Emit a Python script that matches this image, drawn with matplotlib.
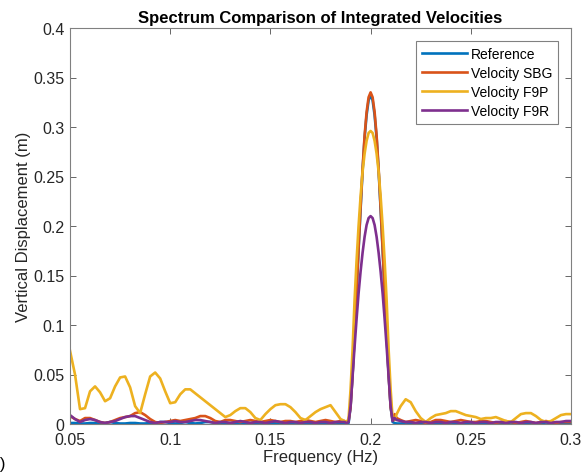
import numpy as np
import matplotlib
matplotlib.use("Agg")
import matplotlib.pyplot as plt

plt.rcParams['font.family'] = ['Liberation Sans', 'DejaVu Sans']

# Frequência (Hz): grade grossa fora do pico, fina em volta de 0.2 Hz
freq_a = [0.0500, 0.0525, 0.0550, 0.0575, 0.0600, 0.0625, 0.0650, 0.0675, 0.0700, 0.0725,
          0.0750, 0.0775, 0.0800, 0.0825, 0.0850, 0.0875, 0.0900, 0.0925, 0.0950, 0.0975,
          0.1000, 0.1025, 0.1050, 0.1075, 0.1100, 0.1125, 0.1150, 0.1175, 0.1200, 0.1225,
          0.1250, 0.1275, 0.1300, 0.1325, 0.1350, 0.1375, 0.1400, 0.1425, 0.1450, 0.1475,
          0.1500, 0.1525, 0.1550, 0.1575, 0.1600, 0.1625, 0.1650, 0.1675, 0.1700, 0.1725,
          0.1750, 0.1775, 0.1800, 0.1825, 0.1850]
freq_b = [0.187, 0.188, 0.189, 0.190, 0.191, 0.192, 0.193, 0.194, 0.195, 0.196,
          0.197, 0.198, 0.199, 0.200, 0.201, 0.202, 0.203, 0.204, 0.205, 0.206,
          0.207, 0.208, 0.209, 0.210, 0.211, 0.212, 0.213]
freq_c = [0.2150, 0.2175, 0.2200, 0.2225, 0.2250, 0.2275, 0.2300, 0.2325, 0.2350, 0.2375,
          0.2400, 0.2425, 0.2450, 0.2475, 0.2500, 0.2525, 0.2550, 0.2575, 0.2600, 0.2625,
          0.2650, 0.2675, 0.2700, 0.2725, 0.2750, 0.2775, 0.2800, 0.2825, 0.2850, 0.2875,
          0.2900, 0.2925, 0.2950, 0.2975, 0.3000]

# Reference
ref_a = [0.001, 0.001, 0.0005, 0.0005, 0.001, 0.001, 0.0005, 0.001, 0.002, 0.001,
         0.0005, 0.0005, 0.001, 0.001, 0.0005, 0.0005, 0.001, 0.001, 0.002, 0.002,
         0.001, 0.0005, 0.001, 0.002, 0.001, 0.0005, 0.001, 0.002, 0.002, 0.001,
         0.0005, 0.0005, 0.001, 0.001, 0.0005, 0.0005, 0.001, 0.001, 0.0005, 0.0005,
         0.001, 0.001, 0.0005, 0.0005, 0.001, 0.001, 0.0005, 0.0005, 0.001, 0.001,
         0.0005, 0.0005, 0.001, 0.001, 0.0005]
ref_b = [0.001, 0.0005, 0.001, 0.017, 0.050, 0.089, 0.133, 0.176, 0.217, 0.256,
         0.289, 0.312, 0.327, 0.332, 0.327, 0.312, 0.289, 0.256, 0.217, 0.176,
         0.133, 0.089, 0.050, 0.017, 0.002, 0.001, 0.0005]
ref_c = [0.0005, 0.001, 0.001, 0.0005, 0.0005, 0.001, 0.001, 0.0005, 0.0005, 0.001,
         0.001, 0.0005, 0.0005, 0.001, 0.001, 0.0005, 0.0005, 0.001, 0.001, 0.0005,
         0.0005, 0.001, 0.001, 0.0005, 0.0005, 0.001, 0.001, 0.0005, 0.0005, 0.001,
         0.001, 0.0005, 0.0005, 0.001, 0.001]

# Velocity SBG
sbg_a = [0.008, 0.005, 0.003, 0.006, 0.006, 0.004, 0.002, 0.001, 0.002, 0.004,
         0.006, 0.007, 0.008, 0.011, 0.012, 0.009, 0.005, 0.002, 0.001, 0.002,
         0.003, 0.004, 0.003, 0.004, 0.005, 0.006, 0.008, 0.008, 0.006, 0.003,
         0.002, 0.004, 0.004, 0.003, 0.002, 0.003, 0.004, 0.003, 0.002, 0.003,
         0.004, 0.003, 0.002, 0.003, 0.003, 0.002, 0.003, 0.004, 0.003, 0.002,
         0.003, 0.004, 0.003, 0.002, 0.003]
sbg_b = [0.003, 0.002, 0.003, 0.017, 0.050, 0.090, 0.134, 0.178, 0.219, 0.258,
         0.291, 0.315, 0.330, 0.335, 0.330, 0.315, 0.291, 0.258, 0.219, 0.178,
         0.134, 0.090, 0.050, 0.017, 0.004, 0.010, 0.006]
sbg_c = [0.004, 0.002, 0.003, 0.004, 0.003, 0.001, 0.002, 0.004, 0.004, 0.003,
         0.002, 0.003, 0.004, 0.003, 0.002, 0.002, 0.003, 0.003, 0.002, 0.001,
         0.002, 0.003, 0.002, 0.001, 0.002, 0.003, 0.002, 0.001, 0.002, 0.003,
         0.002, 0.001, 0.002, 0.002, 0.002]

# Velocity F9P
f9p_a = [0.074, 0.050, 0.015, 0.016, 0.033, 0.038, 0.032, 0.023, 0.026, 0.038,
         0.047, 0.048, 0.037, 0.018, 0.011, 0.030, 0.048, 0.052, 0.046, 0.033,
         0.021, 0.022, 0.030, 0.035, 0.035, 0.031, 0.027, 0.023, 0.019, 0.015,
         0.011, 0.007, 0.009, 0.013, 0.016, 0.016, 0.012, 0.006, 0.004, 0.010,
         0.015, 0.019, 0.020, 0.020, 0.017, 0.012, 0.006, 0.004, 0.008, 0.012,
         0.015, 0.017, 0.019, 0.012, 0.005]
f9p_b = [0.003, 0.002, 0.005, 0.035, 0.075, 0.125, 0.165, 0.200, 0.230, 0.255,
         0.273, 0.286, 0.294, 0.296, 0.294, 0.286, 0.273, 0.255, 0.230, 0.200,
         0.165, 0.125, 0.075, 0.035, 0.005, 0.004, 0.010]
f9p_c = [0.018, 0.025, 0.022, 0.013, 0.006, 0.002, 0.006, 0.009, 0.010, 0.011,
         0.013, 0.013, 0.011, 0.009, 0.008, 0.007, 0.005, 0.006, 0.006, 0.007,
         0.005, 0.003, 0.002, 0.006, 0.010, 0.011, 0.011, 0.008, 0.004, 0.002,
         0.003, 0.006, 0.009, 0.010, 0.010]

# Velocity F9R
f9r_a = [0.009, 0.005, 0.002, 0.004, 0.005, 0.004, 0.002, 0.001, 0.002, 0.003,
         0.005, 0.007, 0.008, 0.008, 0.006, 0.004, 0.002, 0.001, 0.002, 0.002,
         0.002, 0.003, 0.002, 0.002, 0.003, 0.004, 0.004, 0.003, 0.002, 0.001,
         0.002, 0.002, 0.001, 0.002, 0.003, 0.002, 0.001, 0.002, 0.002, 0.001,
         0.002, 0.003, 0.002, 0.001, 0.002, 0.002, 0.001, 0.002, 0.002, 0.001,
         0.002, 0.002, 0.001, 0.002, 0.002]
f9r_b = [0.002, 0.001, 0.002, 0.018, 0.048, 0.078, 0.106, 0.132, 0.154, 0.173,
         0.189, 0.201, 0.208, 0.210, 0.208, 0.201, 0.189, 0.173, 0.154, 0.132,
         0.106, 0.078, 0.048, 0.018, 0.003, 0.006, 0.004]
f9r_c = [0.003, 0.002, 0.002, 0.001, 0.002, 0.002, 0.001, 0.002, 0.002, 0.001,
         0.002, 0.002, 0.001, 0.002, 0.002, 0.001, 0.002, 0.002, 0.001, 0.002,
         0.002, 0.001, 0.002, 0.002, 0.001, 0.002, 0.002, 0.001, 0.002, 0.002,
         0.001, 0.002, 0.002, 0.003, 0.003]

series_names = ['Reference', 'Velocity SBG', 'Velocity F9P', 'Velocity F9R']
series_colors = ['#0072BD', '#D95319', '#EDB120', '#7E2F8E']

xticks = [0.05, 0.1, 0.15, 0.2, 0.25, 0.3]
xtick_labels = ['0.05', '0.1', '0.15', '0.2', '0.25', '0.3']
yticks = [0, 0.05, 0.1, 0.15, 0.2, 0.25, 0.3, 0.35, 0.4]
ytick_labels = ['0', '0.05', '0.1', '0.15', '0.2', '0.25', '0.3', '0.35', '0.4']

freq = freq_a + freq_b + freq_c
series = [ref_a + ref_b + ref_c,
          sbg_a + sbg_b + sbg_c,
          f9p_a + f9p_b + f9p_c,
          f9r_a + f9r_b + f9r_c]

fig = plt.figure(figsize=(5.82, 4.77), dpi=100)
ax = fig.add_axes([70 / 582, 1 - 425 / 477, 501 / 582, 396 / 477])

for valores, nome, cor in zip(series, series_names, series_colors):
    ax.plot(freq, valores, color=cor, linewidth=1.9, label=nome)

ax.set_xlim(0.05, 0.3)
ax.set_ylim(0, 0.4)
ax.set_xticks(xticks)
ax.set_xticklabels(xtick_labels)
ax.set_yticks(yticks)
ax.set_yticklabels(ytick_labels)
ax.tick_params(direction='in', length=4, width=0.6, top=True, right=True,
               labelsize=11.5, colors='#4d4d4d', labelcolor='#262626', pad=4)
ax.tick_params(axis='x', pad=6)
for lado in ax.spines.values():
    lado.set_color('#808080')
    lado.set_linewidth(0.8)

ax.set_title('Spectrum Comparison of Integrated Velocities', fontsize=12,
             fontweight='bold', pad=4)
ax.set_xlabel('Frequency (Hz)', fontsize=12, color='#262626', labelpad=1)
ax.set_ylabel('Vertical Displacement (m)', fontsize=12, color='#262626', labelpad=2)

leg = ax.legend(loc='upper right', bbox_to_anchor=(0.9747, 0.968), borderaxespad=0,
                fontsize=10, fancybox=False, framealpha=1, edgecolor='#808080',
                handlelength=3.2, handletextpad=0.3, labelspacing=0.35,
                borderpad=0.45)
leg.get_frame().set_linewidth(0.8)

# rótulo do painel, cortado na borda como na figura original
fig.text(0.009, 1 - 465 / 477, '(b)', fontsize=12, ha='right', va='center')

fig.savefig('out.png', dpi=100)
